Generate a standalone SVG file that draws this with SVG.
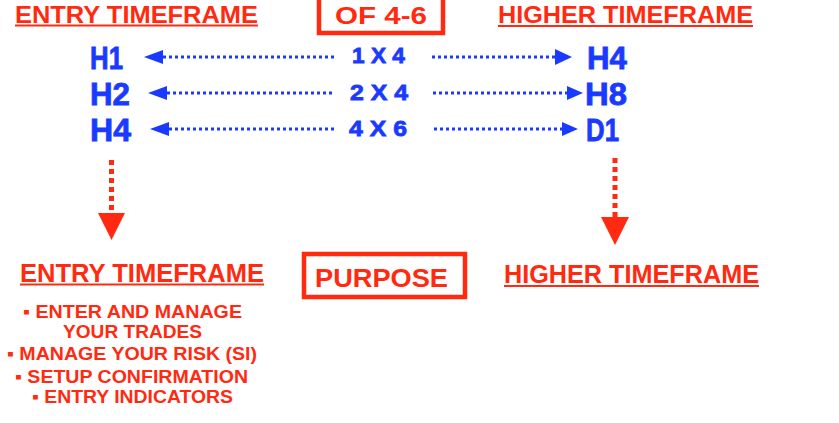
<svg xmlns="http://www.w3.org/2000/svg" width="839" height="423" viewBox="0 0 839 423">
<style>
.r{fill:#ff2a10;font-family:"Liberation Sans",Arial,sans-serif;font-weight:bold}
.b{fill:#1a3bff;stroke:#1a3bff;stroke-width:0.8;font-family:"Liberation Sans",Arial,sans-serif;font-weight:bold}
.dot{stroke:#1a3bff;stroke-width:3;stroke-dasharray:3 3;fill:none}
.rdot{stroke:#ff2a10;stroke-width:5;stroke-dasharray:5 4;fill:none}
.ul{stroke:#ff2a10;stroke-width:2}
.box{fill:none;stroke:#ff2a10;stroke-width:4.5}
.ah{fill:#1a3bff}
.rah{fill:#ff2a10}
</style>
<rect width="839" height="423" fill="#ffffff"/>
<g id="entry-top">
<text class="r" x="15" y="23" font-size="24" textLength="243" lengthAdjust="spacingAndGlyphs">ENTRY TIMEFRAME</text>
<line class="ul" x1="15" y1="25.5" x2="258" y2="25.5"/>
</g>
<g id="of46">
<rect class="box" x="319" y="-4" width="124" height="37"/>
<text class="r" x="381" y="24" font-size="24" text-anchor="middle" textLength="92" lengthAdjust="spacingAndGlyphs">OF 4-6</text>
</g>
<g id="higher-top">
<text class="r" x="498" y="23" font-size="24" textLength="255" lengthAdjust="spacingAndGlyphs">HIGHER TIMEFRAME</text>
<line class="ul" x1="498" y1="26" x2="753" y2="26"/>
</g>
<g id="left-labels">
<text class="b" x="90" y="69" font-size="31" textLength="33" lengthAdjust="spacingAndGlyphs">H1</text>
<text class="b" x="90" y="105" font-size="31" textLength="40" lengthAdjust="spacingAndGlyphs">H2</text>
<text class="b" x="90" y="141" font-size="31" textLength="41" lengthAdjust="spacingAndGlyphs">H4</text>
</g>
<g id="mid-labels">
<text class="b" x="352" y="63" font-size="22" textLength="53" lengthAdjust="spacingAndGlyphs">1 X 4</text>
<text class="b" x="350" y="100" font-size="22" textLength="58" lengthAdjust="spacingAndGlyphs">2 X 4</text>
<text class="b" x="349" y="136" font-size="22" textLength="58" lengthAdjust="spacingAndGlyphs">4 X 6</text>
</g>
<g id="right-labels">
<text class="b" x="587" y="69" font-size="31" textLength="40" lengthAdjust="spacingAndGlyphs">H4</text>
<text class="b" x="585" y="105" font-size="31" textLength="42" lengthAdjust="spacingAndGlyphs">H8</text>
<text class="b" x="586" y="141" font-size="31" textLength="33" lengthAdjust="spacingAndGlyphs">D1</text>
</g>
<g id="connectors">
<line class="dot" x1="163" y1="57" x2="337" y2="57"/>
<polygon class="ah" points="144,57 163,50 163,64"/>
<line class="dot" x1="167" y1="93" x2="335" y2="93"/>
<polygon class="ah" points="148,93 167,86 167,100"/>
<line class="dot" x1="169" y1="129" x2="335" y2="129"/>
<polygon class="ah" points="150,129 169,122 169,136"/>
<line class="dot" x1="432" y1="57" x2="555" y2="57"/>
<polygon class="ah" points="572,57 555,49 555,65"/>
<line class="dot" x1="433" y1="93" x2="567" y2="93"/>
<polygon class="ah" points="583,93 567,86 567,100"/>
<line class="dot" x1="434" y1="129" x2="562" y2="129"/>
<polygon class="ah" points="578,129 562,122 562,136"/>
<line class="rdot" x1="111.5" y1="160" x2="111.5" y2="213"/>
<polygon class="rah" points="98,213 125,213 111.5,240"/>
<line class="rdot" x1="615" y1="158" x2="615" y2="217"/>
<polygon class="rah" points="601,217 629,217 615,245"/>
</g>
<g id="entry-bottom">
<text class="r" x="20" y="282" font-size="25" textLength="244" lengthAdjust="spacingAndGlyphs">ENTRY TIMEFRAME</text>
<line class="ul" x1="20" y1="284.5" x2="264" y2="284.5"/>
<text class="r" x="23" y="318" font-size="18" textLength="219" lengthAdjust="spacingAndGlyphs">▪ ENTER AND MANAGE</text>
<text class="r" x="63" y="338" font-size="18" textLength="139" lengthAdjust="spacingAndGlyphs">YOUR TRADES</text>
<text class="r" x="7" y="360" font-size="18" textLength="250" lengthAdjust="spacingAndGlyphs">▪ MANAGE YOUR RISK (Sl)</text>
<text class="r" x="15" y="383" font-size="18" textLength="233" lengthAdjust="spacingAndGlyphs">▪ SETUP CONFIRMATION</text>
<text class="r" x="32" y="403" font-size="18" textLength="201" lengthAdjust="spacingAndGlyphs">▪ ENTRY INDICATORS</text>
</g>
<g id="purpose">
<rect class="box" x="304" y="254" width="161" height="43"/>
<text class="r" x="315" y="287" font-size="26" textLength="133" lengthAdjust="spacingAndGlyphs">PURPOSE</text>
</g>
<g id="higher-bottom">
<text class="r" x="504" y="283" font-size="25" textLength="255" lengthAdjust="spacingAndGlyphs">HIGHER TIMEFRAME</text>
<line class="ul" x1="504" y1="286" x2="759" y2="286"/>
</g>
</svg>
